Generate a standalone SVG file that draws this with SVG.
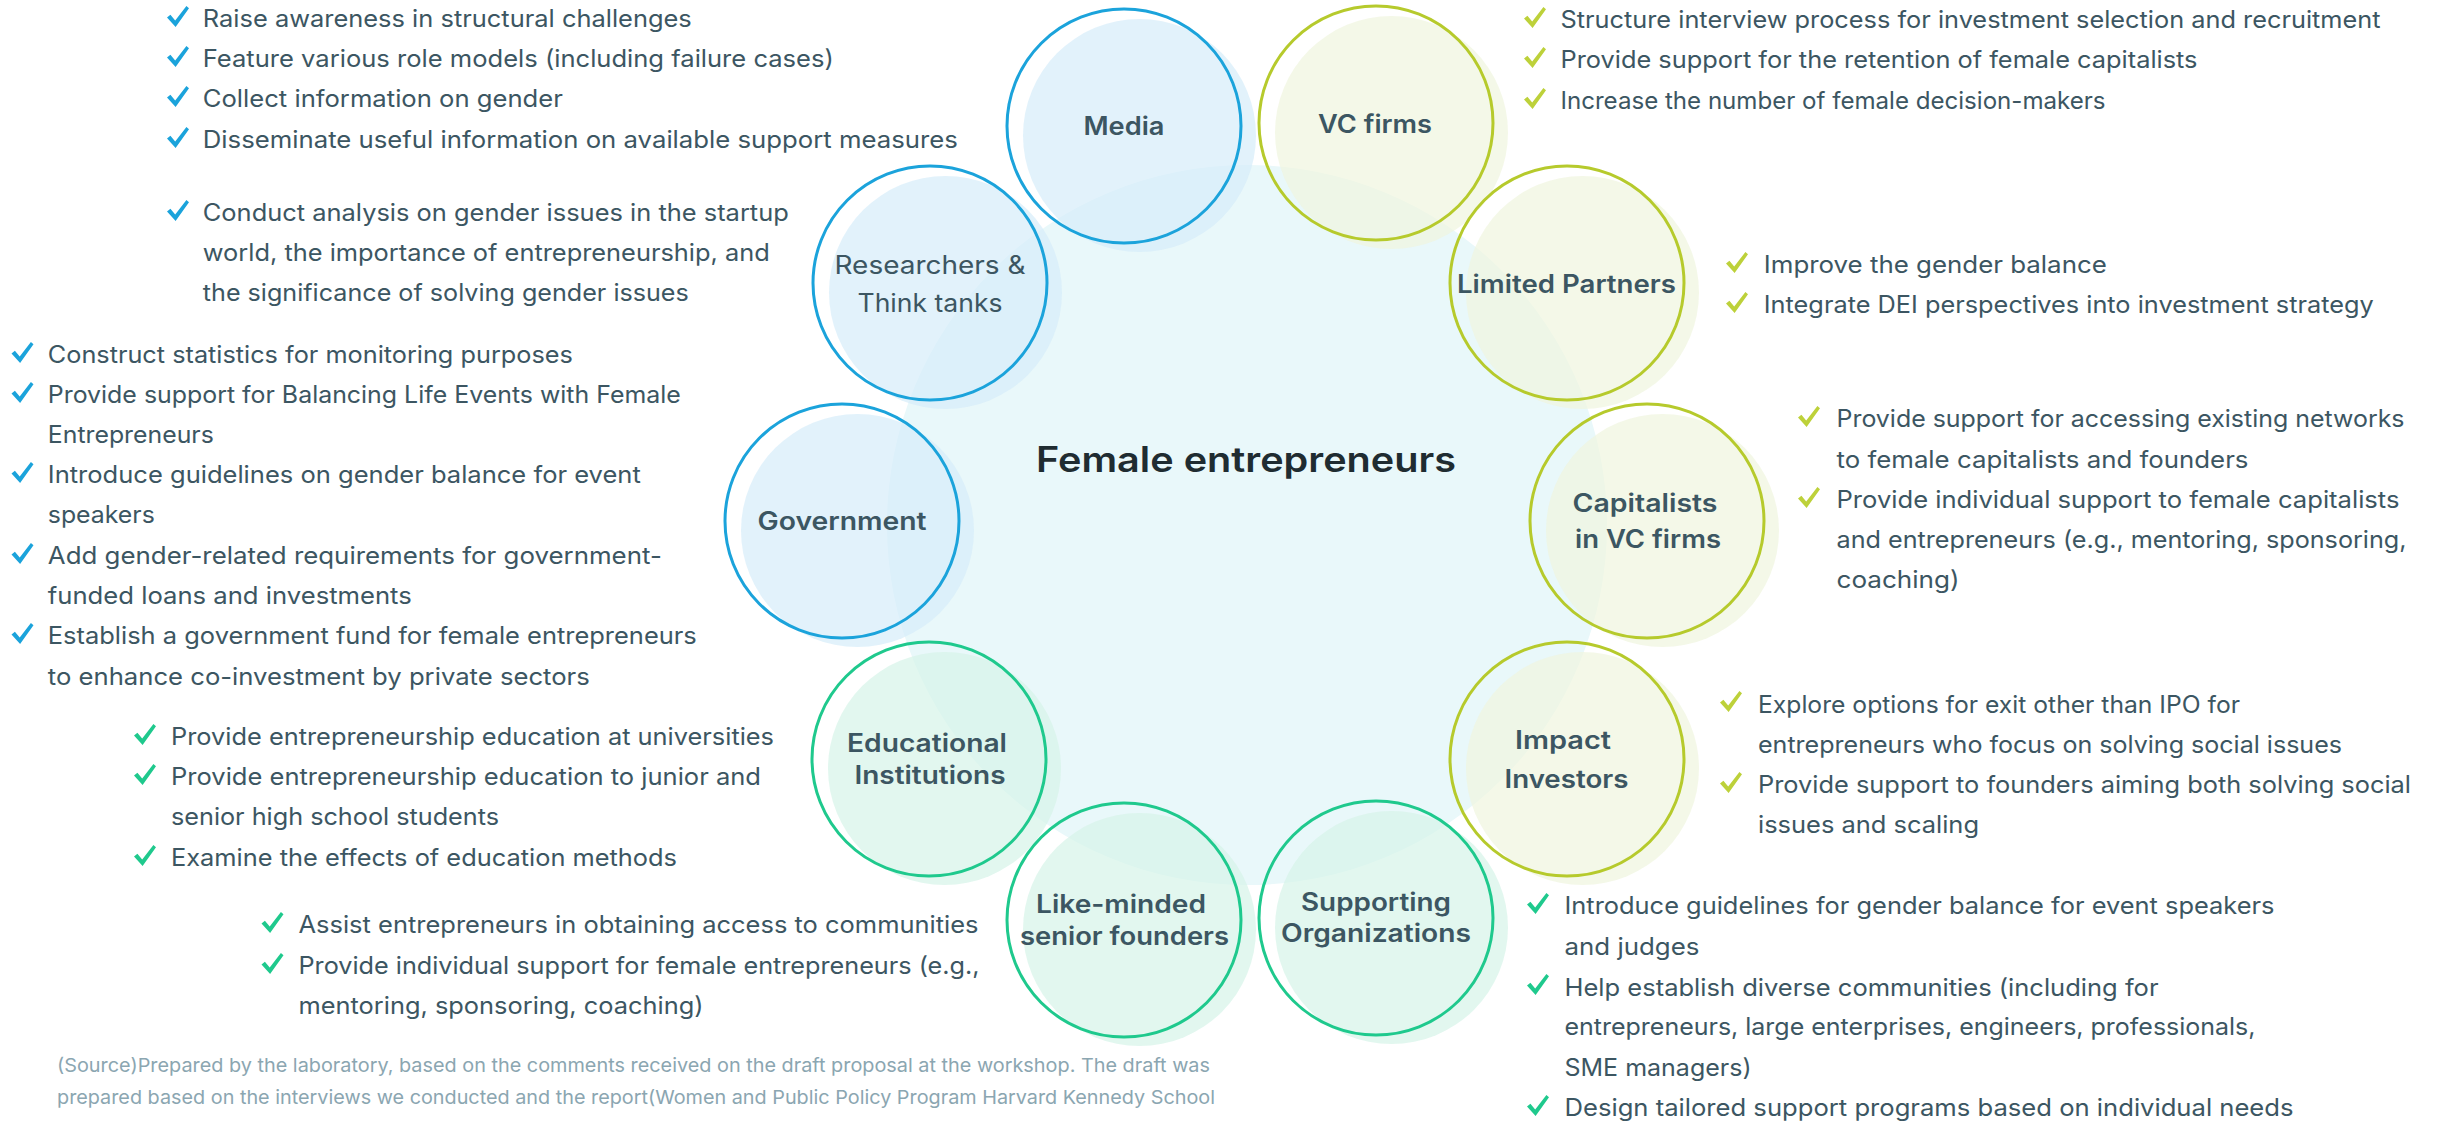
<svg xmlns="http://www.w3.org/2000/svg" xmlns:xlink="http://www.w3.org/1999/xlink" width="2445" height="1121" viewBox="0 0 2445 1121">
<style>
.t{font-family:Inter,"Noto Sans",sans-serif;font-size:24px;fill:#3c5662}
.lb{font-family:Inter,"Noto Sans",sans-serif;font-size:25px;font-weight:600;fill:#3c5662;text-anchor:middle}
.lr{font-family:Inter,"Noto Sans",sans-serif;font-size:25px;font-weight:400;fill:#3c5662;text-anchor:middle}
.ft{font-family:Inter,"Noto Sans",sans-serif;font-size:19px;fill:#8ba6b1}
.title{font-family:Inter,"Noto Sans",sans-serif;font-size:35px;font-weight:600;fill:#1f2c31;text-anchor:middle}
.sb{fill:none;stroke:#1ba3db;stroke-width:3}
.sy{fill:none;stroke:#b6ca2c;stroke-width:3}
.sg{fill:none;stroke:#1fc98d;stroke-width:3}
.fb{fill:#d6edf9;fill-opacity:0.7}
.fy{fill:#eff5de;fill-opacity:0.7}
.fg{fill:#d6f4e8;fill-opacity:0.7}
.cb{fill:#1ba3db}
.cy{fill:#bdd13a}
.cg{fill:#1fc98d}
</style>
<defs>
<path id="chk" d="M0,11.5 L3.4,8.8 L8.2,14.6 L19.4,0 L22,2.3 L8.6,21 Z"/>
</defs>
<rect width="2445" height="1121" fill="#ffffff"/>

<g id="center">
<circle cx="1247" cy="525" r="360" fill="#e9f8fa"/>
<text class="title" x="1246" y="471.5" textLength="420" lengthAdjust="spacingAndGlyphs">Female entrepreneurs</text>
</g>

<g id="node-media">
<circle class="fb" cx="1139.5" cy="135.5" r="116.5"/>
<circle class="sb" cx="1124" cy="126" r="117"/>
<text class="lb" x="1124" y="135" textLength="81" lengthAdjust="spacingAndGlyphs">Media</text>
</g>
<g id="node-vc">
<circle class="fy" cx="1391.5" cy="132.5" r="116.5"/>
<circle class="sy" cx="1376" cy="123" r="117"/>
<text class="lb" x="1375" y="133" textLength="114" lengthAdjust="spacingAndGlyphs">VC firms</text>
</g>
<g id="node-researchers">
<circle class="fb" cx="945.5" cy="292.5" r="116.5"/>
<circle class="sb" cx="930" cy="283" r="117"/>
<text class="lr" x="930" y="274" textLength="191" lengthAdjust="spacingAndGlyphs">Researchers &amp;</text>
<text class="lr" x="930" y="312" textLength="145" lengthAdjust="spacingAndGlyphs">Think tanks</text>
</g>
<g id="node-lp">
<circle class="fy" cx="1582.5" cy="292.5" r="116.5"/>
<circle class="sy" cx="1567" cy="283" r="117"/>
<text class="lb" x="1566.5" y="293" textLength="219" lengthAdjust="spacingAndGlyphs">Limited Partners</text>
</g>
<g id="node-government">
<circle class="fb" cx="857.5" cy="530.5" r="116.5"/>
<circle class="sb" cx="842" cy="521" r="117"/>
<text class="lb" x="842" y="530" textLength="169" lengthAdjust="spacingAndGlyphs">Government</text>
</g>
<g id="node-capitalists">
<circle class="fy" cx="1662.5" cy="530.5" r="116.5"/>
<circle class="sy" cx="1647" cy="521" r="117"/>
<text class="lb" x="1645" y="512" textLength="145" lengthAdjust="spacingAndGlyphs">Capitalists</text>
<text class="lb" x="1648" y="548" textLength="146" lengthAdjust="spacingAndGlyphs">in VC firms</text>
</g>
<g id="node-educational">
<circle class="fg" cx="944.5" cy="768.5" r="116.5"/>
<circle class="sg" cx="929" cy="759" r="117"/>
<text class="lb" x="927" y="752" textLength="160" lengthAdjust="spacingAndGlyphs">Educational</text>
<text class="lb" x="930" y="784" textLength="151" lengthAdjust="spacingAndGlyphs">Institutions</text>
</g>
<g id="node-impact">
<circle class="fy" cx="1582.5" cy="768.5" r="116.5"/>
<circle class="sy" cx="1567" cy="759" r="117"/>
<text class="lb" x="1563" y="749" textLength="96" lengthAdjust="spacingAndGlyphs">Impact</text>
<text class="lb" x="1566.5" y="788" textLength="124" lengthAdjust="spacingAndGlyphs">Investors</text>
</g>
<g id="node-likeminded">
<circle class="fg" cx="1139.5" cy="929.5" r="116.5"/>
<circle class="sg" cx="1124" cy="920" r="117"/>
<text class="lb" x="1121" y="913" textLength="170" lengthAdjust="spacingAndGlyphs">Like-minded</text>
<text class="lb" x="1124.5" y="945" textLength="209" lengthAdjust="spacingAndGlyphs">senior founders</text>
</g>
<g id="node-supporting">
<circle class="fg" cx="1391.5" cy="927.5" r="116.5"/>
<circle class="sg" cx="1376" cy="918" r="117"/>
<text class="lb" x="1376" y="911" textLength="150" lengthAdjust="spacingAndGlyphs">Supporting</text>
<text class="lb" x="1376" y="942" textLength="190" lengthAdjust="spacingAndGlyphs">Organizations</text>
</g>

<g id="list-media">
<use href="#chk" class="cb" x="167" y="6"/>
<use href="#chk" class="cb" x="167" y="46"/>
<use href="#chk" class="cb" x="167" y="86"/>
<use href="#chk" class="cb" x="167" y="127"/>
<text class="t" x="202.8" y="27" textLength="489" lengthAdjust="spacingAndGlyphs">Raise awareness in structural challenges</text>
<text class="t" x="202.8" y="67" textLength="631" lengthAdjust="spacingAndGlyphs">Feature various role models (including failure cases)</text>
<text class="t" x="202.8" y="107.3" textLength="360" lengthAdjust="spacingAndGlyphs">Collect information on gender</text>
<text class="t" x="202.8" y="147.7" textLength="755" lengthAdjust="spacingAndGlyphs">Disseminate useful information on available support measures</text>
</g>
<g id="list-researchers">
<use href="#chk" class="cb" x="167" y="200"/>
<text class="t" x="202.8" y="220.7" textLength="586" lengthAdjust="spacingAndGlyphs">Conduct analysis on gender issues in the startup</text>
<text class="t" x="202.8" y="260.7" textLength="567" lengthAdjust="spacingAndGlyphs">world, the importance of entrepreneurship, and</text>
<text class="t" x="202.8" y="301" textLength="486" lengthAdjust="spacingAndGlyphs">the significance of solving gender issues</text>
</g>
<g id="list-government">
<use href="#chk" class="cb" x="11.5" y="342"/>
<use href="#chk" class="cb" x="11.5" y="382"/>
<use href="#chk" class="cb" x="11.5" y="462"/>
<use href="#chk" class="cb" x="11.5" y="543"/>
<use href="#chk" class="cb" x="11.5" y="623"/>
<text class="t" x="47.8" y="362.7" textLength="525" lengthAdjust="spacingAndGlyphs">Construct statistics for monitoring purposes</text>
<text class="t" x="47.8" y="402.7" textLength="633" lengthAdjust="spacingAndGlyphs">Provide support for Balancing Life Events with Female</text>
<text class="t" x="47.8" y="443.3" textLength="166" lengthAdjust="spacingAndGlyphs">Entrepreneurs</text>
<text class="t" x="47.8" y="483.3" textLength="593" lengthAdjust="spacingAndGlyphs">Introduce guidelines on gender balance for event</text>
<text class="t" x="47.8" y="523.3" textLength="107" lengthAdjust="spacingAndGlyphs">speakers</text>
<text class="t" x="47.8" y="564.3" textLength="614" lengthAdjust="spacingAndGlyphs">Add gender-related requirements for government-</text>
<text class="t" x="47.8" y="604.3" textLength="364" lengthAdjust="spacingAndGlyphs">funded loans and investments</text>
<text class="t" x="47.8" y="644.3" textLength="649" lengthAdjust="spacingAndGlyphs">Establish a government fund for female entrepreneurs</text>
<text class="t" x="47.8" y="685" textLength="542" lengthAdjust="spacingAndGlyphs">to enhance co-investment by private sectors</text>
</g>
<g id="list-educational">
<use href="#chk" class="cg" x="134" y="724"/>
<use href="#chk" class="cg" x="134" y="764"/>
<use href="#chk" class="cg" x="134" y="845"/>
<text class="t" x="171" y="745" textLength="603" lengthAdjust="spacingAndGlyphs">Provide entrepreneurship education at universities</text>
<text class="t" x="171" y="785" textLength="590" lengthAdjust="spacingAndGlyphs">Provide entrepreneurship education to junior and</text>
<text class="t" x="171" y="825" textLength="328" lengthAdjust="spacingAndGlyphs">senior high school students</text>
<text class="t" x="171" y="865.7" textLength="506" lengthAdjust="spacingAndGlyphs">Examine the effects of education methods</text>
</g>
<g id="list-likeminded">
<use href="#chk" class="cg" x="261.5" y="912"/>
<use href="#chk" class="cg" x="261.5" y="953"/>
<text class="t" x="298.5" y="933.3" textLength="680" lengthAdjust="spacingAndGlyphs">Assist entrepreneurs in obtaining access to communities</text>
<text class="t" x="298.5" y="974" textLength="681" lengthAdjust="spacingAndGlyphs">Provide individual support for female entrepreneurs (e.g.,</text>
<text class="t" x="298.5" y="1014" textLength="405" lengthAdjust="spacingAndGlyphs">mentoring, sponsoring, coaching)</text>
</g>
<g id="list-vc">
<use href="#chk" class="cy" x="1524" y="7"/>
<use href="#chk" class="cy" x="1524" y="47"/>
<use href="#chk" class="cy" x="1524" y="88"/>
<text class="t" x="1560.5" y="28.3" textLength="820" lengthAdjust="spacingAndGlyphs">Structure interview process for investment selection and recruitment</text>
<text class="t" x="1560.5" y="68.3" textLength="637" lengthAdjust="spacingAndGlyphs">Provide support for the retention of female capitalists</text>
<text class="t" x="1560.5" y="109.3" textLength="545" lengthAdjust="spacingAndGlyphs">Increase the number of female decision-makers</text>
</g>
<g id="list-lp">
<use href="#chk" class="cy" x="1726" y="252"/>
<use href="#chk" class="cy" x="1726" y="292"/>
<text class="t" x="1763.8" y="273.3" textLength="343" lengthAdjust="spacingAndGlyphs">Improve the gender balance</text>
<text class="t" x="1763.8" y="313.3" textLength="610" lengthAdjust="spacingAndGlyphs">Integrate DEI perspectives into investment strategy</text>
</g>
<g id="list-capitalists">
<use href="#chk" class="cy" x="1798" y="406"/>
<use href="#chk" class="cy" x="1798" y="487"/>
<text class="t" x="1836.5" y="427.3" textLength="568" lengthAdjust="spacingAndGlyphs">Provide support for accessing existing networks</text>
<text class="t" x="1836.5" y="468.3" textLength="412" lengthAdjust="spacingAndGlyphs">to female capitalists and founders</text>
<text class="t" x="1836.5" y="508.3" textLength="563" lengthAdjust="spacingAndGlyphs">Provide individual support to female capitalists</text>
<text class="t" x="1836.5" y="548.3" textLength="570" lengthAdjust="spacingAndGlyphs">and entrepreneurs (e.g., mentoring, sponsoring,</text>
<text class="t" x="1836.5" y="588.3" textLength="123" lengthAdjust="spacingAndGlyphs">coaching)</text>
</g>
<g id="list-impact">
<use href="#chk" class="cy" x="1720" y="691"/>
<use href="#chk" class="cy" x="1720" y="772"/>
<text class="t" x="1758" y="712.7" textLength="482" lengthAdjust="spacingAndGlyphs">Explore options for exit other than IPO for</text>
<text class="t" x="1758" y="752.7" textLength="584" lengthAdjust="spacingAndGlyphs">entrepreneurs who focus on solving social issues</text>
<text class="t" x="1758" y="793.3" textLength="653" lengthAdjust="spacingAndGlyphs">Provide support to founders aiming both solving social</text>
<text class="t" x="1758" y="833.3" textLength="221" lengthAdjust="spacingAndGlyphs">issues and scaling</text>
</g>
<g id="list-supporting">
<use href="#chk" class="cg" x="1527" y="893"/>
<use href="#chk" class="cg" x="1527" y="974"/>
<use href="#chk" class="cg" x="1527" y="1095"/>
<text class="t" x="1564.5" y="914.3" textLength="710" lengthAdjust="spacingAndGlyphs">Introduce guidelines for gender balance for event speakers</text>
<text class="t" x="1564.5" y="955" textLength="135" lengthAdjust="spacingAndGlyphs">and judges</text>
<text class="t" x="1564.5" y="995.7" textLength="594" lengthAdjust="spacingAndGlyphs">Help establish diverse communities (including for</text>
<text class="t" x="1564.5" y="1035" textLength="691" lengthAdjust="spacingAndGlyphs">entrepreneurs, large enterprises, engineers, professionals,</text>
<text class="t" x="1564.5" y="1076" textLength="187" lengthAdjust="spacingAndGlyphs">SME managers)</text>
<text class="t" x="1564.5" y="1116" textLength="729" lengthAdjust="spacingAndGlyphs">Design tailored support programs based on individual needs</text>
</g>
<g id="footer">
<text class="ft" x="57" y="1071.7" textLength="1153" lengthAdjust="spacingAndGlyphs">(Source)Prepared by the laboratory, based on the comments received on the draft proposal at the workshop. The draft was</text>
<text class="ft" x="57" y="1104" textLength="1158" lengthAdjust="spacingAndGlyphs">prepared based on the interviews we conducted and the report(Women and Public Policy Program Harvard Kennedy School</text>
</g>
</svg>
